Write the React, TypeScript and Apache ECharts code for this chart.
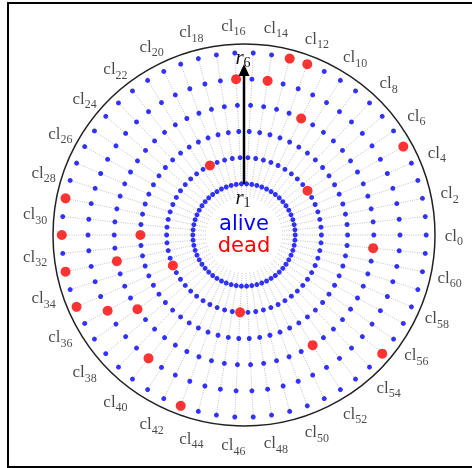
import React, { useEffect, useRef } from 'react';
import * as echarts from 'echarts';

// 62 spokes (cl0 ... cl61), counter-clockwise from east
const spokeNames: string[] = Array.from({ length: 62 }, (_, i) => `cl${i}`);
// spokes that carry a label
const labeledSpokes: number[] = [0, 2, 4, 6, 8, 10, 12, 14, 16, 18, 20, 22, 24, 26, 28, 30, 32, 34, 36, 38, 40, 42, 44, 46, 48, 50, 52, 54, 56, 58, 60];
// ring indices r1 ... r6
const rings: number[] = [1, 2, 3, 4, 5, 6];
// dead cells: [ring, spoke]
const deadCells: [number, number][] = [
  [6, 13], [6, 12], [5, 16], [5, 14], [4, 11], [6, 5], [2, 20], [2, 6],
  [6, 29], [6, 31], [3, 31], [4, 61], [4, 33], [6, 33], [2, 35], [6, 35],
  [5, 36], [4, 37], [2, 46], [4, 52], [6, 55], [5, 40], [6, 43],
];

const RADIUS_MIN = -0.954;
const RADIUS_MAX = 6.336;
const SPOKE_START = 0.5;
const LABEL_RADIUS = 7.06;

export default function App() {
  const ref = useRef<HTMLDivElement>(null);
  useEffect(() => {
    if (!ref.current) return;
    const chart = echarts.init(ref.current, null, { renderer: 'svg' });
    const deadSet = new Set(deadCells.map(([r, s]) => `${r}-${s}`));
    const aliveSeries = rings.map((r) => {
      const pts: number[][] = [];
      spokeNames.forEach((_, s) => {
        if (!deadSet.has(`${r}-${s}`)) pts.push([r, s]);
      });
      return {
        type: 'scatter',
        coordinateSystem: 'polar',
        clip: false,
        z: 3,
        symbolSize: 5,
        itemStyle: { color: '#0000ff' },
        data: pts,
      };
    });
    const dead = deadCells.map(([r, s]) => [r, s]);
    const labelData = labeledSpokes.map((k) => ({ value: [LABEL_RADIUS, k], idx: k }));

    chart.setOption({
      animation: false,
      polar: { center: [244, 235], radius: 191 },
      angleAxis: {
        type: 'category',
        data: spokeNames,
        boundaryGap: false,
        startAngle: 0,
        clockwise: false,
        axisLine: { show: false },
        axisTick: { show: false },
        axisLabel: { show: false },
        splitLine: { show: false },
      },
      radiusAxis: {
        type: 'value',
        min: RADIUS_MIN,
        max: RADIUS_MAX,
        axisLine: { show: false },
        axisTick: { show: false },
        axisLabel: { show: false },
        splitLine: { show: false },
      },
      series: [
        {
          type: 'custom',
          coordinateSystem: 'polar',
          clip: false,
          z: 1,
          data: spokeNames.map((_, i) => [SPOKE_START, i]),
          renderItem: (params: any, api: any) => {
            const i = params.dataIndex;
            const p0 = api.coord([SPOKE_START, i]);
            const p1 = api.coord([rings[rings.length - 1], i]);
            return {
              type: 'line',
              shape: { x1: p0[0], y1: p0[1], x2: p1[0], y2: p1[1] },
              style: { stroke: '#a8a8a8', lineWidth: 0.7, lineDash: [1, 1.3] },
            };
          },
        },
        ...aliveSeries,
        {
          type: 'scatter',
          coordinateSystem: 'polar',
          clip: false,
          z: 4,
          symbolSize: 10,
          itemStyle: { color: '#ff0000' },
          data: dead,
        },
        {
          type: 'scatter',
          coordinateSystem: 'polar',
          clip: false,
          z: 5,
          symbolSize: 0,
          data: labelData,
          label: {
            show: true,
            position: 'inside',
            formatter: (p: any) => `{a|cl}{b|${p.data.idx}}`,
            rich: {
              a: { fontFamily: 'Liberation Serif', fontSize: 17, color: '#1a1a1a' },
              b: { fontFamily: 'Liberation Serif', fontSize: 12, color: '#1a1a1a', padding: [12, 0, 0, 0] },
            },
          },
        },
      ],
      graphic: [
        {
          type: 'rect',
          shape: { x: 8, y: 3, width: 470, height: 464 },
          style: { fill: 'none', stroke: '#000', lineWidth: 2 },
          z: 10,
        },
        {
          type: 'circle',
          shape: { cx: 244, cy: 235, r: 191 },
          style: { fill: 'none', stroke: '#222', lineWidth: 1.5 },
          z: 0,
        },
        {
          type: 'text',
          x: 244, y: 223,
          style: { text: 'alive', fill: '#0000ff', font: '21px "DejaVu Sans"', align: 'center', verticalAlign: 'middle' },
          z: 10,
        },
        {
          type: 'text',
          x: 244, y: 245,
          style: { text: 'dead', fill: '#ff0000', font: '21px "DejaVu Sans"', align: 'center', verticalAlign: 'middle' },
          z: 10,
        },
        {
          type: 'text',
          x: 243, y: 197,
          style: {
            text: '{a|r}{b|1}',
            align: 'center', verticalAlign: 'middle',
            rich: {
              a: { fontFamily: 'Liberation Serif', fontStyle: 'italic', fontSize: 21, fill: '#111' },
              b: { fontFamily: 'Liberation Serif', fontSize: 14, fill: '#111', padding: [11, 0, 0, 0] },
            },
          },
          z: 10,
        },
        {
          type: 'text',
          x: 243, y: 57,
          style: {
            text: '{a|r}{b|6}',
            align: 'center', verticalAlign: 'middle',
            rich: {
              a: { fontFamily: 'Liberation Serif', fontStyle: 'italic', fontSize: 21, fill: '#111' },
              b: { fontFamily: 'Liberation Serif', fontSize: 14, fill: '#111', padding: [11, 0, 0, 0] },
            },
          },
          z: 10,
        },
        {
          type: 'line',
          shape: { x1: 244, y1: 184, x2: 244, y2: 74 },
          style: { stroke: '#000', lineWidth: 2.5 },
          z: 11,
        },
        {
          type: 'polygon',
          shape: { points: [[238.5, 76], [249.5, 76], [244, 64]] },
          style: { fill: '#000' },
          z: 11,
        },
      ],
    });
    return () => chart.dispose();
  }, []);
  return <div ref={ref} style={{ position: 'fixed', left: 0, top: 0, width: 472, height: 468 }} />;
}
